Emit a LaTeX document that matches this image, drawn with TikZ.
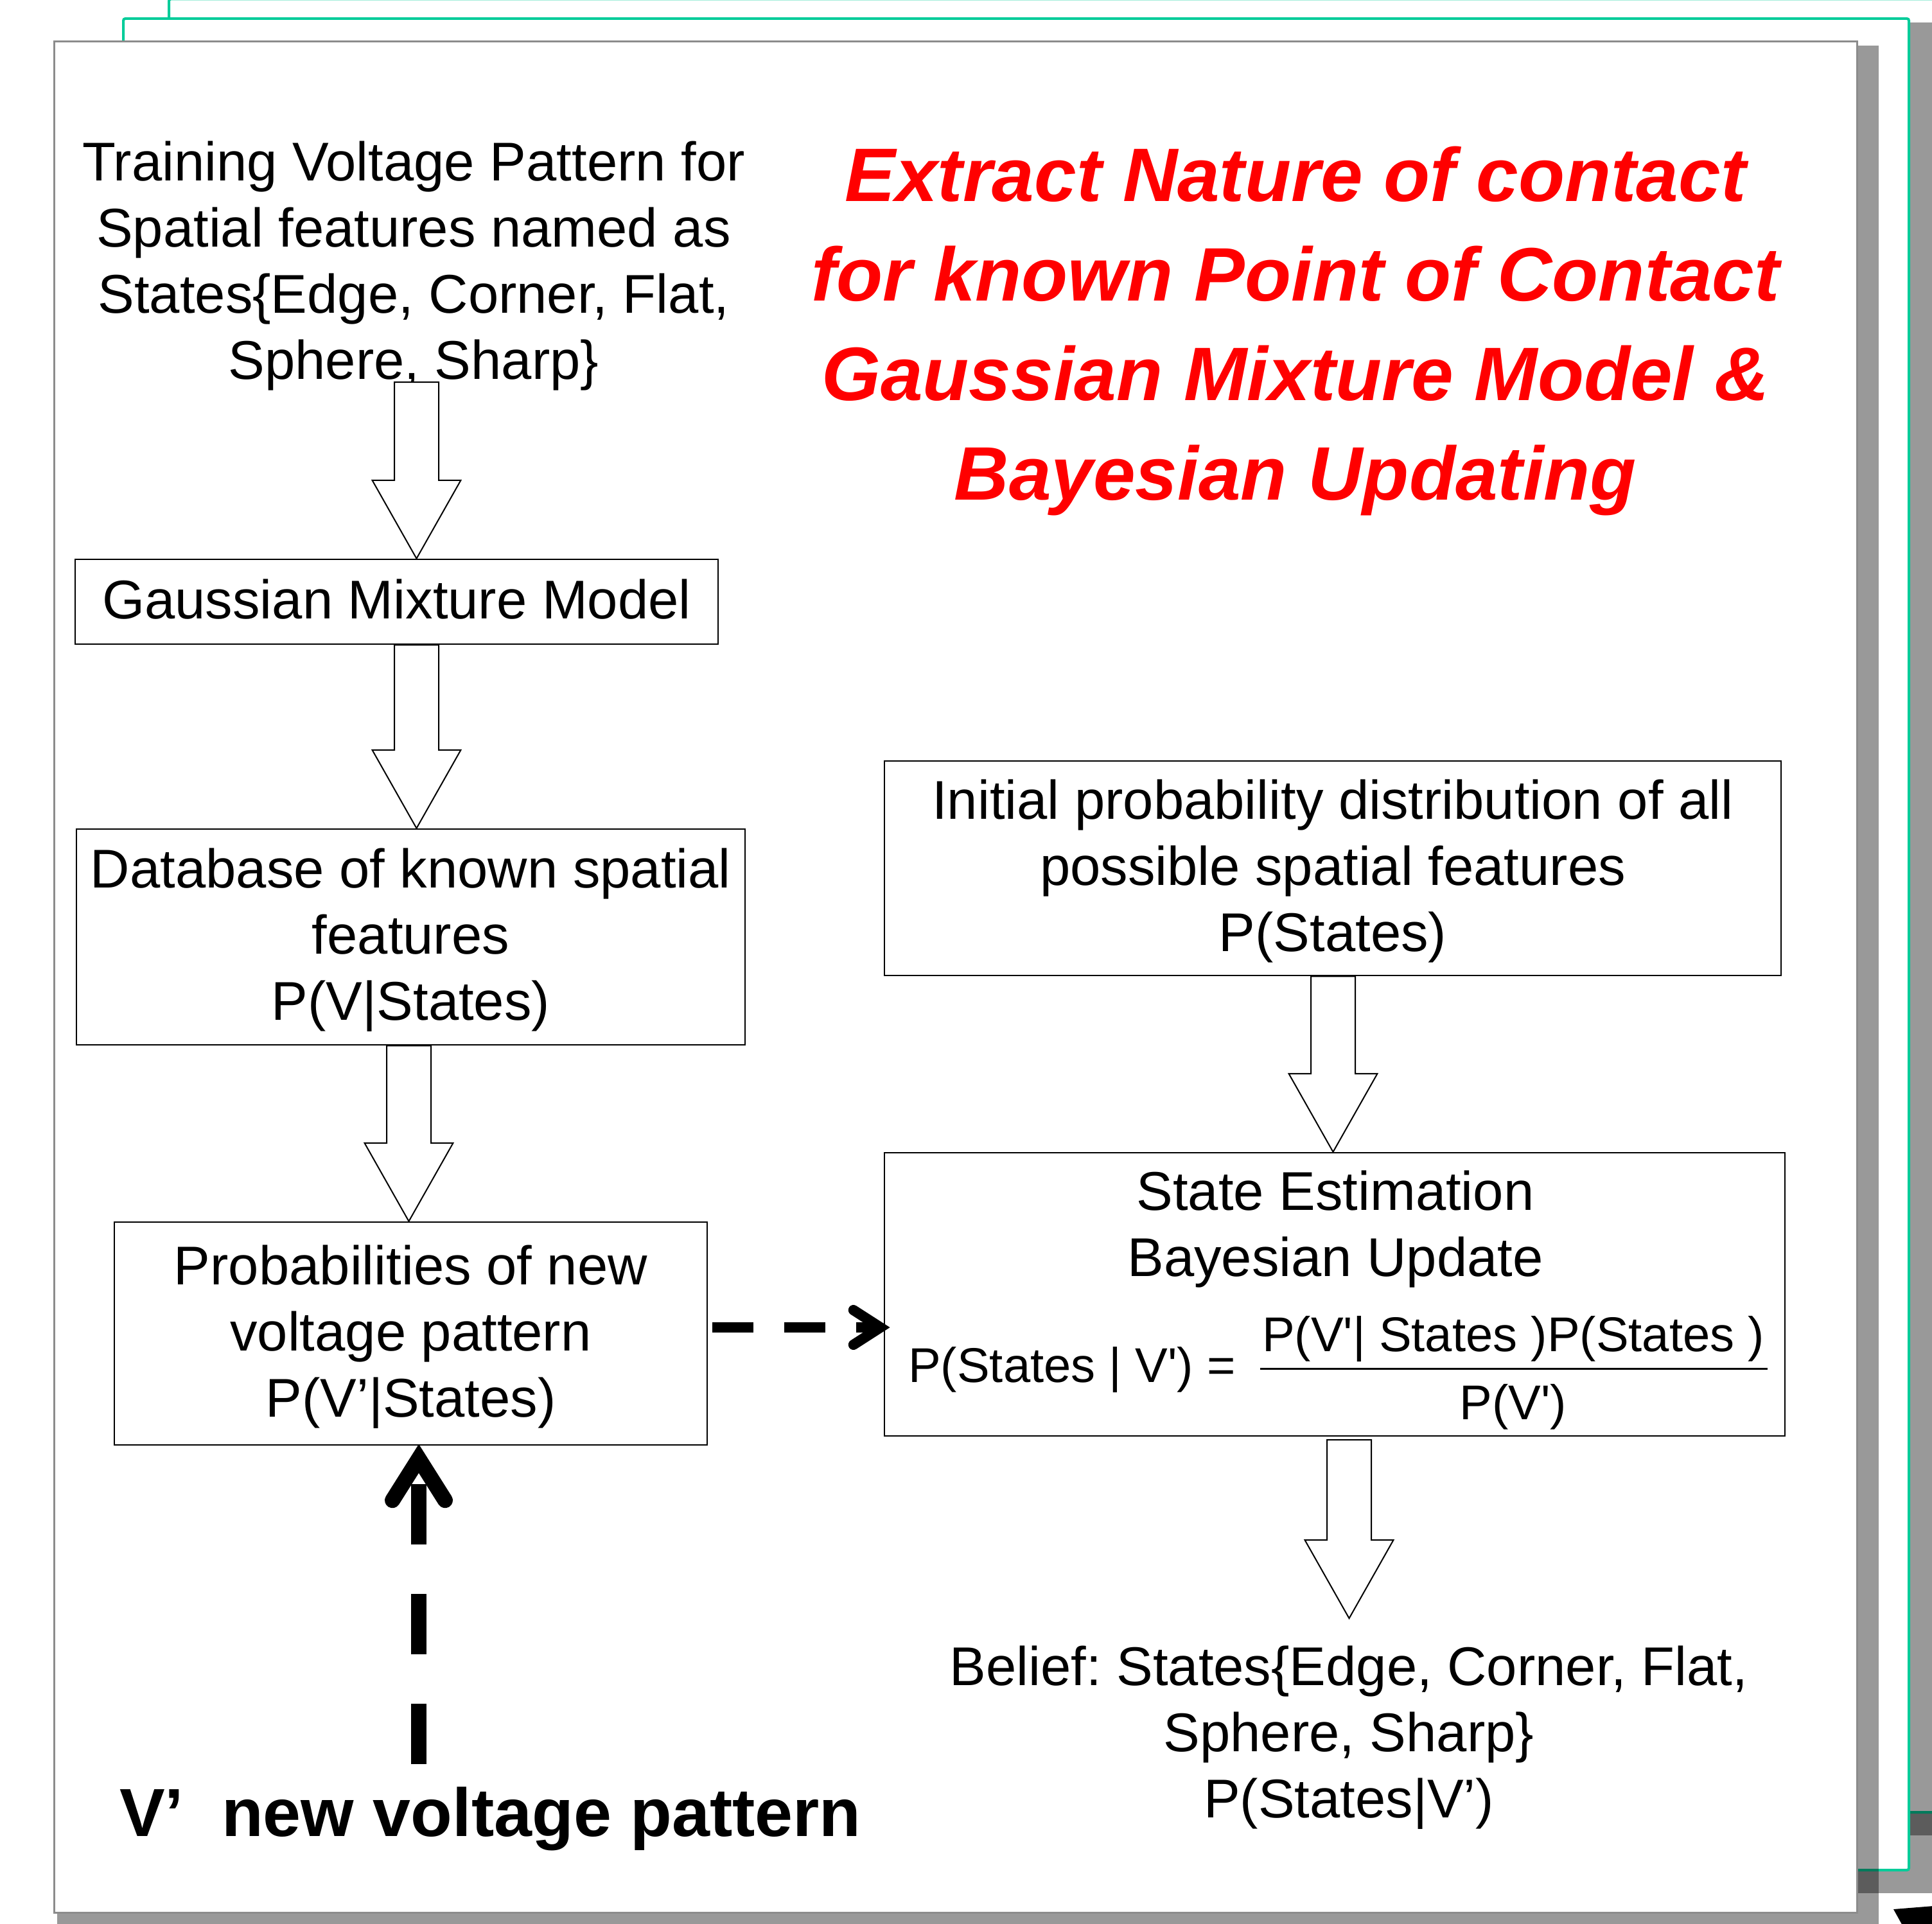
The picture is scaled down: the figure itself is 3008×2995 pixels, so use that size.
\documentclass[tikz,border=0pt]{standalone}
\usepackage{fontspec}
\setmainfont{Liberation Sans}
\usetikzlibrary{calc}
\frenchspacing
\definecolor{pagegreen}{HTML}{00CC99}
\definecolor{pagegray}{HTML}{8C8C8C}
\definecolor{titlered}{HTML}{FF0000}
\newcommand\mystrut{\vrule width 0pt height 0.76\baselineskip depth 0.24\baselineskip}
\newcommand\brk{\mystrut\\}
\newcommand\boxfont{\fontsize{85}{103}\selectfont}
\newcommand\eqfont{\fontsize{76}{90}\selectfont}
\newcommand\titlefont{\fontsize{118}{155}\selectfont\bfseries\itshape}
\newcommand\blockarrow[2]{%
  \draw[blockarr] let \p1=#1, \p2=#2 in
    (\x2-34.5pt,\y1) -- (\x2-34.5pt,\y2+122pt) -- (\x2-69pt,\y2+122pt) -- (\x2,\y2)
    -- (\x2+69pt,\y2+122pt) -- (\x2+34.5pt,\y2+122pt) -- (\x2+34.5pt,\y1) -- cycle;}
\tikzset{
  box/.style={draw=black, line width=2.5pt, fill=white, align=center, inner sep=0pt, font=\boxfont},
  plaintext/.style={align=center, inner sep=0pt, font=\boxfont},
  eqtext/.style={inner sep=0pt, font=\eqfont},
  blockarr/.style={draw=black, line width=2pt, fill=white, line join=miter},
  shadowfill/.style={fill=black, opacity=0.4},
  greenpage/.style={fill=white, draw=pagegreen, line width=4pt, rounded corners=3pt},
  vdashed/.style={line width=24pt, dash pattern=on 94pt off 77pt},
  hdashed/.style={line width=16pt, dash pattern=on 64pt off 48pt},
  vbarb/.style={line width=24pt, line cap=round, line join=miter, miter limit=10},
  hbarb/.style={line width=16pt, line cap=round, line join=miter, miter limit=10}
}
\begin{document}
\begin{tikzpicture}[x=1pt,y=-1pt]
\useasboundingbox (0,0) rectangle (3008,2995);
\clip (0,0) rectangle (3008,2995);
% stacked pages
\fill[shadowfill] (268,4) rectangle (3100,2858);
\filldraw[greenpage] (263,-1.5) rectangle (3100,2822);
\fill[shadowfill] (197,35) rectangle (3012,2948);
\filldraw[greenpage] (192,29) rectangle (2972,2912);
\fill[shadowfill] (89,71) rectangle (2925,3010);
\filldraw[fill=white, draw=pagegray, line width=3pt] (84,65) rectangle (2891,2978);
\fill[black] (2948,2973) -- (3010,2968) -- (3010,3000) -- (2963,3000) -- cycle;

% title
\node[align=center, inner sep=0pt, font=\titlefont, text=titlered] (title) at (2017,506)
  {Extract Nature of contact\brk for known Point of Contact\brk Gaussian Mixture Model \&\brk Bayesian Updating\mystrut};

% left column
\node[plaintext] (train) at (644,409.5)
  {Training Voltage Pattern for\brk Spatial features named as\brk States\{Edge, Corner, Flat,\brk Sphere, Sharp\}\mystrut};
\node[box, minimum width=1001pt, minimum height=132pt] (gmm) at (617.5,937)
  {Gaussian Mixture Model\mystrut};
\node[box, minimum width=1041pt, minimum height=336pt] (db) at (639.5,1459)
  {Database of known spatial\brk features\brk P(V|States)\mystrut};
\node[box, minimum width=923pt, minimum height=347pt] (prob) at (639.5,2076.5)
  {Probabilities of new\brk voltage pattern\brk P(V’|States)\mystrut};

% right column
\node[box, minimum width=1396pt, minimum height=334pt] (init) at (2075,1352)
  {Initial probability distribution of all\brk possible spatial features\brk P(States)\mystrut};
\node[box, minimum width=1402pt, minimum height=441pt] (state) at (2078,2015.5) {};
\node[plaintext] (statetxt) at (2079,1909.5) {State Estimation\brk Bayesian Update\mystrut};
\node[eqtext, anchor=base west] (eql) at (1414,2152) {P(States | V\textquotesingle) =};
\node[eqtext, anchor=base] (num) at (2356,2104) {P(V\textquotesingle| States )P(States )};
\node[eqtext, anchor=base] (den) at (2356,2210) {P(V\textquotesingle)};
\draw[line width=3pt] (1962,2131) -- (2752,2131);

\node[plaintext] (belief) at (2100,2700.5)
  {Belief: States\{Edge, Corner, Flat,\brk Sphere, Sharp\}\brk P(States|V’)\mystrut};

\node[anchor=base west, inner sep=0pt, font=\fontsize{106}{120}\selectfont\bfseries] (vlabel) at (186,2859)
  {V’\ \ new voltage pattern};

% block arrows
\coordinate (trainout) at (648.5,595);
\blockarrow{(trainout)}{(trainout |- gmm.north)}
\blockarrow{(648.5,0 |- gmm.south)}{(648.5,0 |- db.north)}
\blockarrow{(636.5,0 |- db.south)}{(636.5,0 |- prob.north)}
\blockarrow{(2075.5,0 |- init.south)}{(2075.5,0 |- state.north)}
\coordinate (beliefin) at (2100.5,2520);
\blockarrow{(2100.5,2242)}{(beliefin)}

% dashed connectors
\coordinate (vsrc) at (652,2747);
\draw[vdashed, shorten >=20pt] (vsrc) -- (vsrc |- prob.south);
\draw[vbarb] ($(vsrc |- prob.south)+(-41,85)$) -- ($(vsrc |- prob.south)+(0,20)$) -- ($(vsrc |- prob.south)+(41,85)$);
\coordinate (hsrc) at ($(prob.east)+(7,-9.5)$);
\draw[hdashed, shorten >=5pt] (hsrc) -- (state.west |- hsrc);
\draw[hbarb] ($(state.west |- hsrc)+(-47,-27)$) -- ($(state.west |- hsrc)+(-5,0)$) -- ($(state.west |- hsrc)+(-47,27)$);
\end{tikzpicture}
\end{document}
